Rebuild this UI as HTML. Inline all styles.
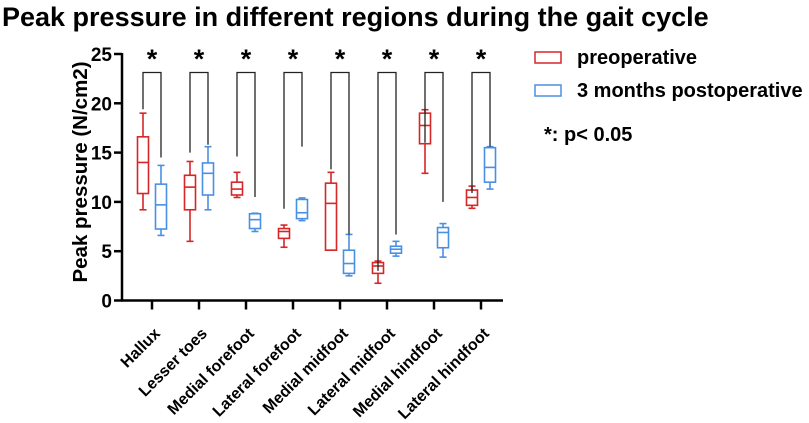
<!DOCTYPE html>
<html><head><meta charset="utf-8"><style>
body{margin:0;background:#fff;}
svg{display:block;font-family:"Liberation Sans",Arial,sans-serif;font-weight:bold;}
</style></head><body>
<svg id="chart" width="809" height="423" xmlns="http://www.w3.org/2000/svg">
<text x="2" y="26" font-size="27">Peak pressure in different regions during the gait cycle</text>
<text transform="translate(87,172) rotate(-90)" text-anchor="middle" font-size="20.5">Peak pressure (N/cm2)</text>
<g id="axes"></g><g id="marks"></g>
<g>
<rect x="535" y="52" width="26" height="11" fill="none" stroke="#d62728" stroke-width="1.5"/>
<text x="577" y="64" font-size="20">preoperative</text>
<rect x="535" y="85" width="26" height="11" fill="none" stroke="#4a90e2" stroke-width="1.5"/>
<text x="577" y="97" font-size="20">3 months postoperative</text>
<text x="544" y="141" font-size="20">*:  p&lt; 0.05</text>
</g>
</svg>
<script>
const categories=["Hallux","Lesser toes","Medial forefoot","Lateral forefoot","Medial midfoot","Lateral midfoot","Medial hindfoot","Lateral hindfoot"];
// [min,q1,median,q3,max]
const preValues=[[9.2,10.85,14.0,16.6,19.0],[6.0,9.2,11.5,12.7,14.1],[10.45,10.7,11.3,12.0,13.0],[5.4,6.3,7.0,7.3,7.65],[5.1,5.1,9.85,11.9,13.0],[1.75,2.75,3.5,3.85,4.0],[12.9,15.9,17.75,19.0,19.35],[9.35,9.65,10.45,11.2,11.6]];
const postValues=[[6.6,7.25,9.7,11.8,13.7],[9.2,10.7,12.9,13.95,15.6],[7.0,7.3,8.2,8.8,8.85],[8.1,8.3,8.9,10.25,10.4],[2.5,2.75,3.75,5.1,6.7],[4.5,4.8,5.2,5.5,6.0],[4.4,5.35,6.9,7.4,7.8],[11.3,12.0,13.5,15.5,15.6]];
const bracketLeft=[19.4,15.0,14.6,9.3,13.3,3.0,16.0,10.9];
const bracketRight=[14.5,15.8,10.5,15.6,6.7,6.7,10.0,15.6];
const yTicks=[0,5,10,15,20,25];
const NS="http://www.w3.org/2000/svg";
const y0=300.5,pxPer=9.86,xStart=122,step=47;
const yS=v=>y0-v*pxPer;
const xS=i=>152+i*step;
function el(tag,attrs,parent){const e=document.createElementNS(NS,tag);for(const k in attrs)e.setAttribute(k,attrs[k]);parent.appendChild(e);return e;}
const axes=document.getElementById('axes'),marks=document.getElementById('marks');
let a=el('line',{x1:xStart,y1:yS(25)-1,x2:xStart,y2:y0,stroke:'#000','stroke-width':2.5},axes);


a=el('line',{x1:xStart-1,y1:y0,x2:503,y2:y0,stroke:'#000','stroke-width':2.5},axes);


yTicks.forEach(t=>{
 el('line',{x1:114,y1:yS(t),x2:xStart,y2:yS(t),stroke:'#000','stroke-width':2.5},axes);
 const tx=el('text',{x:112,y:yS(t)+7,'text-anchor':'end','font-size':19},axes);tx.textContent=t;
 
 
});
categories.forEach((c,i)=>{
 const x=xS(i);
 el('line',{x1:x,y1:y0,x2:x,y2:y0+9,stroke:'#000','stroke-width':2.5},axes);
 const tx=el('text',{transform:`translate(${x+9},${y0+34}) rotate(-45)`,'text-anchor':'end','font-size':16},axes);tx.textContent=c;
 
 
});
function box(cx,v,color,name){
 const g=el('g',{},marks);
 
 
 const w=11,s={stroke:color,'stroke-width':1.6,fill:'none'};
 el('line',Object.assign({x1:cx,y1:yS(v[0]),x2:cx,y2:yS(v[1])},s),g);
 el('line',Object.assign({x1:cx,y1:yS(v[3]),x2:cx,y2:yS(v[4])},s),g);
 el('line',Object.assign({x1:cx-3.5,y1:yS(v[0]),x2:cx+3.5,y2:yS(v[0])},s),g);
 el('line',Object.assign({x1:cx-3.5,y1:yS(v[4]),x2:cx+3.5,y2:yS(v[4])},s),g);
 el('rect',Object.assign({x:cx-w/2,y:yS(v[3]),width:w,height:Math.max(0,yS(v[1])-yS(v[3]))},s),g);
 el('line',Object.assign({x1:cx-w/2,y1:yS(v[2]),x2:cx+w/2,y2:yS(v[2])},s),g);
}
categories.forEach((c,i)=>{
 const x=xS(i),xl=x-9,xr=x+9;
 box(xl,preValues[i],'#d62728','box-preoperative');
 box(xr,postValues[i],'#4a90e2','box-postoperative');
 const p=el('polyline',{points:`${xl},${yS(bracketLeft[i])} ${xl},72.5 ${xr},72.5 ${xr},${yS(bracketRight[i])}`,fill:'none',stroke:'#222','stroke-width':1.3},marks);
 
 
 const s=el('text',{x:x,y:68,'text-anchor':'middle','font-size':27},marks);s.textContent='*';
 
 
});
</script>
</body></html>
